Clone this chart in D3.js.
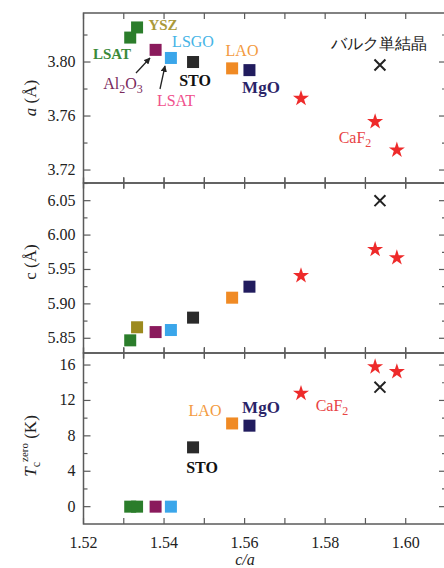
<!DOCTYPE html>
<html>
<head>
<meta charset="utf-8">
<script src="https://cdn.jsdelivr.net/npm/d3@7"></script>
<style>
  body { margin: 0; background: #fff; }
  text { font-family: "Liberation Serif", "DejaVu Serif", serif; }
</style>
</head>
<body>
<script>
// values
var materials = ["LSAT", "YSZ", "Al2O3", "LSGO", "STO", "LAO", "MgO", "CaF2-1", "CaF2-2", "CaF2-3", "bulk"];
var caRatio   = [1.5316, 1.5333, 1.5379, 1.5417, 1.5472, 1.5569, 1.5612, 1.5740, 1.5924, 1.5978, 1.5936];
var aValues   = [3.8181, 3.8256, 3.8090, 3.8030, 3.8000, 3.7953, 3.7940, 3.7730, 3.7558, 3.7348, 3.7978];
var cValues   = [5.847, 5.866, 5.859, 5.862, 5.880, 5.909, 5.925, 5.941, 5.979, 5.967, 6.050];
var tcValues  = [0, 0, 0, 0, 6.7, 9.4, 9.15, 12.8, 15.8, 15.25, 13.5];

var xTicks  = [1.52, 1.54, 1.56, 1.58, 1.60];
var aTicks  = [3.72, 3.76, 3.80];
var cTicks  = [5.85, 5.90, 5.95, 6.00, 6.05];
var tcTicks = [0, 4, 8, 12, 16];

var colors = {
  "LSAT": "#2b7d2b", "YSZ": "#2b7d2b", "Al2O3": "#8a1a5c", "LSGO": "#3aa6ea",
  "STO": "#2a2a2a", "LAO": "#f08a24", "MgO": "#211c5e", "CaF2": "#ee2a2a", "bulk": "#222"
};

var chartWidth = 444;
var chartHeight = 568;

var svg = d3.select("body")
            .append("svg")
            .attr("width", chartWidth)
            .attr("height", chartHeight);

var left = 83.5, right = 446;

var xScale = d3.scaleLinear()
               .domain([1.52, 1.61])
               .range([left, right]);

var panels = [
  {key: "a",  top: 13,  bottom: 183, domain: [3.7104, 3.8363], values: aValues,  ticks: aTicks,  minor: 0.02,  fmt: d3.format(".2f")},
  {key: "c",  top: 183, bottom: 353, domain: [5.8286, 6.0757], values: cValues,  ticks: cTicks,  minor: 0.025, fmt: d3.format(".2f")},
  {key: "tc", top: 353, bottom: 524, domain: [-1.96, 17.36],   values: tcValues, ticks: tcTicks, minor: 2,     fmt: d3.format("d")}
];

var frameColor = "#5a5a5a";

panels.forEach(function(p, pi) {
  p.y = d3.scaleLinear().domain(p.domain).range([p.bottom, p.top]);
  var g = svg.append("g");

  g.append("rect")
   .attr("x", left).attr("y", p.top)
   .attr("width", right - left).attr("height", p.bottom - p.top)
   .attr("fill", "none").attr("stroke", frameColor).attr("stroke-width", 1.5);

  // y ticks (major labeled, minor in between), left and right
  var lo = Math.ceil(p.domain[0] / p.minor - 1e-6), hi = Math.floor(p.domain[1] / p.minor + 1e-6);
  var all = d3.range(lo, hi + 1).map(function(k) { return k * p.minor; });
  g.selectAll(".ytick")
   .data(all)
   .enter()
   .append("g")
   .each(function(d) {
     var isMajor = p.ticks.some(function(t) { return Math.abs(t - d) < 1e-6; });
     var len = isMajor ? 7 : 4;
     var yy = p.y(d);
     var sel = d3.select(this);
     sel.append("line").attr("x1", left).attr("x2", left + len).attr("y1", yy).attr("y2", yy)
        .attr("stroke", frameColor).attr("stroke-width", 1.2);
     sel.append("line").attr("x1", right).attr("x2", right - len).attr("y1", yy).attr("y2", yy)
        .attr("stroke", frameColor).attr("stroke-width", 1.2);
   });

  g.selectAll(".ylab")
   .data(p.ticks)
   .enter()
   .append("text")
   .attr("x", left - 8)
   .attr("y", function(d) { return p.y(d) + 5; })
   .attr("text-anchor", "end")
   .attr("font-size", 16)
   .attr("fill", "#222")
   .text(p.fmt);

  // x ticks on top and bottom edges
  var xt = d3.range(152, 162).map(function(k) { return k / 100; });
  g.selectAll(".xtick")
   .data(xt)
   .enter()
   .append("g")
   .each(function(d) {
     var xx = xScale(d);
     var sel = d3.select(this);
     sel.append("line").attr("x1", xx).attr("x2", xx).attr("y1", p.top - (pi > 0 ? 5 : 0)).attr("y2", p.top + 6)
        .attr("stroke", frameColor).attr("stroke-width", 1.2);
     sel.append("line").attr("x1", xx).attr("x2", xx).attr("y1", p.bottom - 6).attr("y2", p.bottom + (pi < 2 ? 5 : 0))
        .attr("stroke", frameColor).attr("stroke-width", 1.2);
   });

  // markers
  var pts = materials.map(function(m, i) { return {m: m, x: caRatio[i], y: p.values[i]}; });
  var squares = pts.filter(function(d) { return d.m.indexOf("CaF2") < 0 && d.m !== "bulk"; });
  var stars = pts.filter(function(d) { return d.m.indexOf("CaF2") === 0; });
  var crosses = pts.filter(function(d) { return d.m === "bulk"; });

  g.selectAll(".sq")
   .data(squares)
   .enter()
   .append("rect")
   .attr("x", function(d) { return xScale(d.x) - 6; })
   .attr("y", function(d) { return p.y(d.y) - 6; })
   .attr("width", 12)
   .attr("height", 12)
   .attr("fill", function(d) {
     if (d.m === "YSZ" && p.key === "c") return "#9c8a1e";
     return colors[d.m];
   });

  g.selectAll(".star")
   .data(stars)
   .enter()
   .append("path")
   .attr("d", d3.symbol().type(d3.symbolStar).size(80))
   .attr("transform", function(d) { return "translate(" + xScale(d.x) + "," + p.y(d.y) + ")"; })
   .attr("fill", colors.CaF2);

  g.selectAll(".cross")
   .data(crosses)
   .enter()
   .append("path")
   .attr("d", d3.symbol().type(d3.symbolTimes).size(80))
   .attr("transform", function(d) { return "translate(" + xScale(d.x) + "," + p.y(d.y) + ")"; })
   .attr("fill", "none")
   .attr("stroke", "#222")
   .attr("stroke-width", 2);
});

// text labels
function label(x, y, txt, color, size, sub) {
  var t = svg.append("text")
             .attr("x", x).attr("y", y)
             .attr("text-anchor", "middle")
             .attr("font-size", size || 15)
             .attr("fill", color);
  if (!sub) { t.text(txt); return t; }
  sub.forEach(function(s) {
    var ts = t.append("tspan").text(s[0]);
    if (s[1]) ts.attr("font-size", (size || 15) * 0.75).attr("dy", 4);
    else if (s[2]) ts.attr("dy", -4);
  });
  return t;
}

label(163, 30, "YSZ", "#aa9a3a", 15).attr("font-weight", "bold");
label(193, 47, "LSGO", "#45b4e6", 16);
label(112, 59, "LSAT", "#3a8a3a", 15).attr("font-weight", "bold");
label(123, 89, null, "#7a2a5c", 16, [["Al"], ["2", true], ["O", false, true], ["3", true]]);
label(176, 106, "LSAT", "#f0508c", 16);
label(195, 86, "STO", "#111", 16).attr("font-weight", "bold");
label(242, 56, "LAO", "#f39a40", 16);
label(261, 93, "MgO", "#2a2468", 17).attr("font-weight", "bold");
label(379, 49, "バルク単結晶", "#222", 16).attr("font-family", "Noto Sans CJK JP");
label(355, 143, null, "#e84444", 16, [["CaF"], ["2", true]]);

label(205, 416, "LAO", "#f39a40", 16);
label(261, 413, "MgO", "#2a2468", 17).attr("font-weight", "bold");
label(332, 411, null, "#e84444", 16, [["CaF"], ["2", true]]);
label(202, 473, "STO", "#111", 16).attr("font-weight", "bold");

// arrows
svg.append("defs").append("marker")
   .attr("id", "ah").attr("viewBox", "0 0 10 10").attr("refX", 9).attr("refY", 5)
   .attr("markerWidth", 5).attr("markerHeight", 5).attr("orient", "auto")
   .append("path").attr("d", "M0,0L10,5L0,10z").attr("fill", "#222");
svg.append("line").attr("x1", 136).attr("y1", 73).attr("x2", 150).attr("y2", 58)
   .attr("stroke", "#222").attr("stroke-width", 1.3).attr("marker-end", "url(#ah)");
svg.append("line").attr("x1", 160).attr("y1", 89).attr("x2", 165).attr("y2", 66)
   .attr("stroke", "#222").attr("stroke-width", 1.3).attr("marker-end", "url(#ah)");

// x tick labels + axis title
svg.selectAll(".xlab")
   .data(xTicks)
   .enter()
   .append("text")
   .attr("x", function(d) { return xScale(d); })
   .attr("y", 548)
   .attr("text-anchor", "middle")
   .attr("font-size", 16)
   .attr("fill", "#222")
   .text(d3.format(".2f"));

svg.append("text")
   .attr("x", 245).attr("y", 565)
   .attr("text-anchor", "middle")
   .attr("font-size", 16)
   .attr("font-style", "italic")
   .attr("fill", "#222")
   .text("c/a");

// y titles
var yt1 = svg.append("text").attr("transform", "translate(36,98) rotate(-90)")
             .attr("text-anchor", "middle").attr("font-size", 17).attr("fill", "#222");
yt1.append("tspan").attr("font-style", "italic").text("a");
yt1.append("tspan").text(" (Å)");

svg.append("text").attr("transform", "translate(36,262) rotate(-90)")
   .attr("text-anchor", "middle").attr("font-size", 17).attr("fill", "#222")
   .text("c (Å)");

var yt3 = svg.append("text").attr("transform", "translate(36,446) rotate(-90)")
             .attr("text-anchor", "middle").attr("font-size", 17).attr("fill", "#222");
yt3.append("tspan").attr("font-style", "italic").text("T");
yt3.append("tspan").attr("font-size", 12).attr("dy", 4).text("c");
yt3.append("tspan").attr("font-size", 11).attr("dy", -12).text("zero");
yt3.append("tspan").attr("dy", 8).text(" (K)");
</script>
</body>
</html>
